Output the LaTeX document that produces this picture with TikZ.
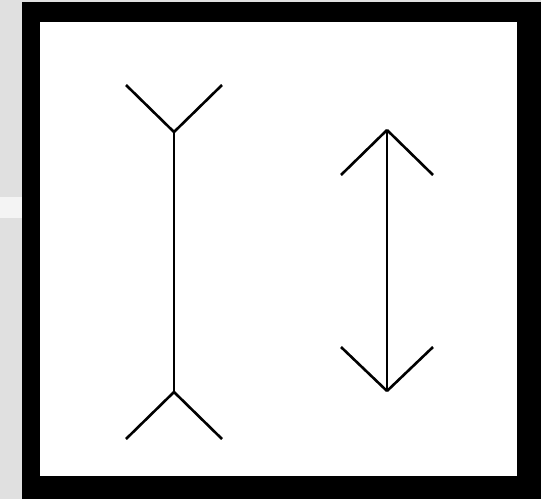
\documentclass[tikz,border=0pt]{standalone}
\usepackage{tikz}
\usetikzlibrary{positioning,calc}
\definecolor{cpanel}{HTML}{E0E0E0}
\definecolor{cband}{HTML}{F4F4F4}
\tikzset{
  shaft/.style={line width=2.6pt, black},
  fin/.style={line width=2.6pt, black},
}

\begin{document}
\begin{tikzpicture}[x=1pt, y=-1pt]
    % background and frame
    \fill[cpanel] (0,0) rectangle (541,499);
    \fill[cband] (0,197) rectangle (22,218);
    \fill[black] (22,2) rectangle (541,499);
    \fill[white] (40,22) rectangle (517,476);
    \useasboundingbox (0,0) rectangle (541,499);
    % left figure (fins outward)
    \coordinate (ltop) at (174,132);
    \coordinate (lbot) at (174,392);
    \draw[shaft] (ltop) -- (lbot);
    \draw[fin] (ltop) -- ++(-48,-47);
    \draw[fin] (ltop) -- ++(48,-47);
    \draw[fin] (lbot) -- ++(-48,47);
    \draw[fin] (lbot) -- ++(48,47);
    % right figure (fins inward)
    \coordinate (rtop) at (387,130);
    \coordinate (rbot) at (387,391);
    \draw[shaft] (rtop) -- (rbot);
    \draw[fin] (rtop) -- ++(-46,45);
    \draw[fin] (rtop) -- ++(46,45);
    \draw[fin] (rbot) -- ++(-46,-44);
    \draw[fin] (rbot) -- ++(46,-44);
  \end{tikzpicture}
\end{document}
